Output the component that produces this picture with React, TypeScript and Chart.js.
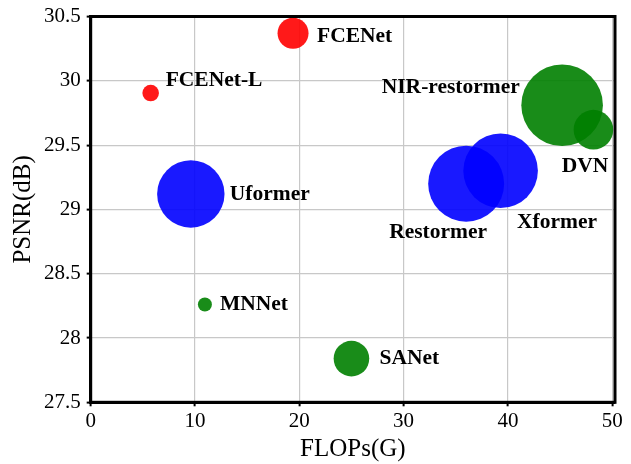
import React, { useEffect, useRef } from 'react';
import { Chart, registerables } from 'chart.js';

Chart.register(...registerables);

// ---- data ----
const models = ['FCENet', 'FCENet-L', 'Uformer', 'MNNet', 'SANet', 'NIR-restormer', 'DVN', 'Restormer', 'Xformer'];
const flops = [19.4, 5.75, 9.6, 10.95, 25.0, 45.2, 48.2, 36.0, 39.3];
const psnr = [30.37, 29.905, 29.12, 28.26, 27.84, 29.81, 29.62, 29.2, 29.3];
const bubbleSize = [15.5, 8.3, 33.7, 7, 17.8, 40.8, 19.8, 38, 37.3];
const groups = ['red', 'red', 'blue', 'green', 'green', 'green', 'green', 'blue', 'blue'];

const xTicks = [0, 10, 20, 30, 40, 50];
const xTickLabels = ['0', '10', '20', '30', '40', '50'];
const yTicks = [27.5, 28, 28.5, 29, 29.5, 30, 30.5];
const yTickLabels = ['27.5', '28', '28.5', '29', '29.5', '30', '30.5'];
const xTitle = 'FLOPs(G)';
const yTitle = 'PSNR(dB)';

// ---- styles ----
const groupColor: Record<string, string> = {
  red: 'rgba(255,0,0,0.9)',
  blue: 'rgba(0,0,255,0.9)',
  green: 'rgba(0,128,0,0.9)',
};
// label offsets from bubble centre in px: [dx, dy, align]
const labelPlacement: [number, number, CanvasTextAlign][] = [
  [24, 3, 'left'],
  [15, -12.7, 'left'],
  [39, 0, 'left'],
  [15, 0, 'left'],
  [28, 0, 'left'],
  [-42.3, -17.7, 'right'],
  [-31.6, 36.3, 'left'],
  [-77, 49, 'left'],
  [16.4, 51.3, 'left'],
];

const FONT = "'Liberation Serif', 'Times New Roman', serif";

const labelsPlugin = {
  id: 'bubbleLabels',
  afterDatasetsDraw(chart: any) {
    const ctx = chart.ctx;
    const meta = chart.getDatasetMeta(0);
    ctx.save();
    ctx.font = `bold 21.5px ${FONT}`;
    ctx.fillStyle = '#000';
    ctx.textBaseline = 'middle';
    meta.data.forEach((el: any, i: number) => {
      const [dx, dy, align] = labelPlacement[i];
      ctx.textAlign = align;
      ctx.fillText(models[i], el.x + dx, el.y + dy);
    });
    ctx.restore();
  },
};

const framePlugin = {
  id: 'frame',
  afterDraw(chart: any) {
    const { left, right, top, bottom } = chart.chartArea;
    const ctx = chart.ctx;
    ctx.save();
    ctx.strokeStyle = '#000';
    ctx.lineWidth = 3;
    ctx.strokeRect(left, top, right - left, bottom - top);
    ctx.restore();
  },
};

export default function App() {
  const ref = useRef<HTMLCanvasElement>(null);
  useEffect(() => {
    if (!ref.current) return;
    const chart = new Chart(ref.current, {
      type: 'bubble',
      data: {
        datasets: [
          {
            data: models.map((_, i) => ({ x: flops[i], y: psnr[i], r: bubbleSize[i] })),
            backgroundColor: groups.map((g) => groupColor[g]),
            borderWidth: 0,
          },
        ],
      },
      options: {
        responsive: false,
        animation: false,
        layout: { autoPadding: false, padding: { left: 0, top: 11, right: 16, bottom: 0 } },
        plugins: { legend: { display: false }, tooltip: { enabled: false } },
        scales: {
          x: {
            type: 'linear',
            min: 0,
            max: 50.27,
            afterBuildTicks: (s: any) => {
              s.ticks = xTicks.map((v) => ({ value: v }));
            },
            afterFit: (s: any) => {
              s.height = 61.7;
            },
            ticks: {
              callback: (v: any) => xTickLabels[xTicks.indexOf(Number(v))],
              font: { family: FONT, size: 21, lineHeight: 1 },
              color: '#000',
              padding: 4.4,
              maxRotation: 0,
              autoSkip: false,
            },
            grid: { color: '#c8c8c8', lineWidth: 1.2, tickColor: '#000', tickLength: 4, tickWidth: 2 },
            border: { color: '#000', width: 3 },
            title: {
              display: true,
              text: xTitle,
              color: '#000',
              font: { family: FONT, size: 25 },
              padding: { top: 0, bottom: 0 },
            },
          },
          y: {
            type: 'linear',
            min: 27.5,
            max: 30.5,
            afterBuildTicks: (s: any) => {
              s.ticks = yTicks.map((v) => ({ value: v }));
            },
            afterFit: (s: any) => {
              s.width = 90.7;
            },
            ticks: {
              callback: (v: any) => yTickLabels[yTicks.indexOf(Number(v))],
              font: { family: FONT, size: 21, lineHeight: 1 },
              color: '#000',
              padding: 6,
              autoSkip: false,
            },
            grid: { color: '#c8c8c8', lineWidth: 1.2, tickColor: '#000', tickLength: 4, tickWidth: 2 },
            border: { color: '#000', width: 3 },
            title: {
              display: true,
              text: yTitle,
              color: '#000',
              font: { family: FONT, size: 25 },
              padding: { top: 8.6, bottom: 0 },
            },
          },
        },
      },
      plugins: [labelsPlugin, framePlugin],
    } as any);
    return () => chart.destroy();
  }, []);

  return (
    <div style={{ position: 'fixed', left: 0, top: 0, width: 631, height: 464, background: '#fff' }}>
      <canvas ref={ref} width={631} height={464} style={{ width: 631, height: 464, display: 'block' }} />
    </div>
  );
}
